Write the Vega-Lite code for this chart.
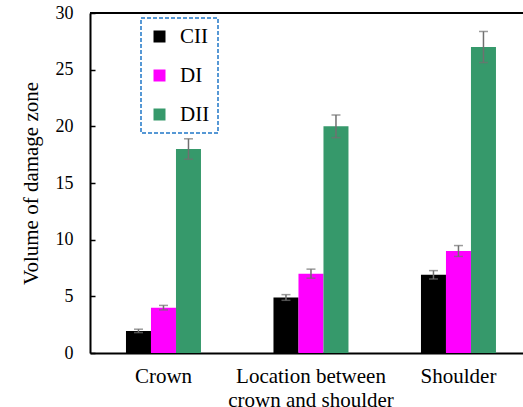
{
  "$schema": "https://vega.github.io/schema/vega-lite/v6.json",
  "width": 433,
  "height": 340,
  "autosize": "none",
  "padding": {"left": 90, "top": 13, "right": 0, "bottom": 54},
  "config": {
    "view": {"stroke": null},
    "font": "Liberation Serif",
    "axis": {"labelFont": "Liberation Serif", "titleFont": "Liberation Serif", "labelColor": "#000", "titleColor": "#000", "grid": false, "domainColor": "#000", "domainWidth": 2, "tickColor": "#000"},
    "legend": {"labelFont": "Liberation Serif"}
  },
  "data": {
    "values": [
      {"location": "Crown", "series": "CII", "value": 1.95, "lo": 1.8, "hi": 2.1},
      {"location": "Crown", "series": "DI", "value": 4.0, "lo": 3.8, "hi": 4.2},
      {"location": "Crown", "series": "DII", "value": 18.0, "lo": 17.1, "hi": 18.9},
      {"location": "Location between crown and shoulder", "series": "CII", "value": 4.9, "lo": 4.65, "hi": 5.15},
      {"location": "Location between crown and shoulder", "series": "DI", "value": 7.0, "lo": 6.6, "hi": 7.4},
      {"location": "Location between crown and shoulder", "series": "DII", "value": 20.0, "lo": 19.0, "hi": 21.0},
      {"location": "Shoulder", "series": "CII", "value": 6.9, "lo": 6.53, "hi": 7.27},
      {"location": "Shoulder", "series": "DI", "value": 9.0, "lo": 8.52, "hi": 9.48},
      {"location": "Shoulder", "series": "DII", "value": 27.0, "lo": 25.63, "hi": 28.37}
    ]
  },
  "resolve": {"axis": {"y": "independent"}},
  "layer": [
    {
      "encoding": {
        "x": {
          "field": "location", "type": "nominal", "sort": null,
          "scale": {"paddingInner": 0.4915, "paddingOuter": 0.2136, "align": 0.571},
          "axis": {
            "title": null, "ticks": false, "labelAngle": 0, "labelFontSize": 21, "labelPadding": 12,
            "labelLineHeight": 24, "labelBaseline": "top",
            "labelExpr": "datum.label == 'Location between crown and shoulder' ? ['Location between', 'crown and shoulder'] : datum.label"
          }
        },
        "xOffset": {"field": "series", "type": "nominal", "sort": ["CII", "DI", "DII"], "scale": {"paddingInner": 0, "paddingOuter": 0}}
      },
      "layer": [
        {
          "mark": {"type": "bar"},
          "encoding": {
            "y": {
              "field": "value", "type": "quantitative",
              "scale": {"domain": [0, 30], "nice": false},
              "axis": {"title": "Volume of damage zone", "titleFontSize": 21, "titleFontWeight": "normal", "titlePadding": 14, "values": [0, 5, 10, 15, 20, 25, 30], "labelFontSize": 18, "ticks": false, "labelPadding": 17}
            },
            "color": {
              "field": "series", "type": "nominal",
              "scale": {"domain": ["CII", "DI", "DII"], "range": ["#000000", "#FF00FF", "#36996B"]},
              "legend": {
                "title": null, "orient": "none", "legendX": 51, "legendY": 5,
                "symbolType": "square", "symbolSize": 144, "symbolStrokeWidth": 0,
                "labelFontSize": 21, "labelColor": "#000", "labelOffset": 10,
                "rowPadding": 17, "padding": 8,
                "strokeColor": "#1F77C8",
                "encode": {
                  "legend": {"update": {"strokeDash": {"value": [4, 2]}, "strokeWidth": {"value": 1.5}}},
                  "symbols": {"update": {"fill": {"signal": "datum.value === 'DII' ? '#00B050' : datum.value === 'DI' ? '#FF00FF' : '#000000'"}}}
                }
              }
            }
          }
        },
        {
          "mark": {"type": "rule", "color": "#707070", "strokeWidth": 1.5},
          "encoding": {
            "y": {"field": "lo", "type": "quantitative"},
            "y2": {"field": "hi"}
          }
        },
        {
          "mark": {"type": "tick", "color": "#707070", "thickness": 1.5, "size": 9},
          "encoding": {"y": {"field": "lo", "type": "quantitative"}}
        },
        {
          "mark": {"type": "tick", "color": "#707070", "thickness": 1.5, "size": 9},
          "encoding": {"y": {"field": "hi", "type": "quantitative"}}
        }
      ]
    },
    {
      "mark": {"type": "rule", "color": "#000", "strokeWidth": 2},
      "encoding": {
        "y": {
          "datum": 30, "type": "quantitative",
          "axis": {"orient": "right", "offset": -433, "labels": false, "domain": false, "title": null, "values": [0, 5, 10, 15, 20, 25, 30], "tickSize": 5, "tickWidth": 1.5}
        }
      }
    }
  ]
}
